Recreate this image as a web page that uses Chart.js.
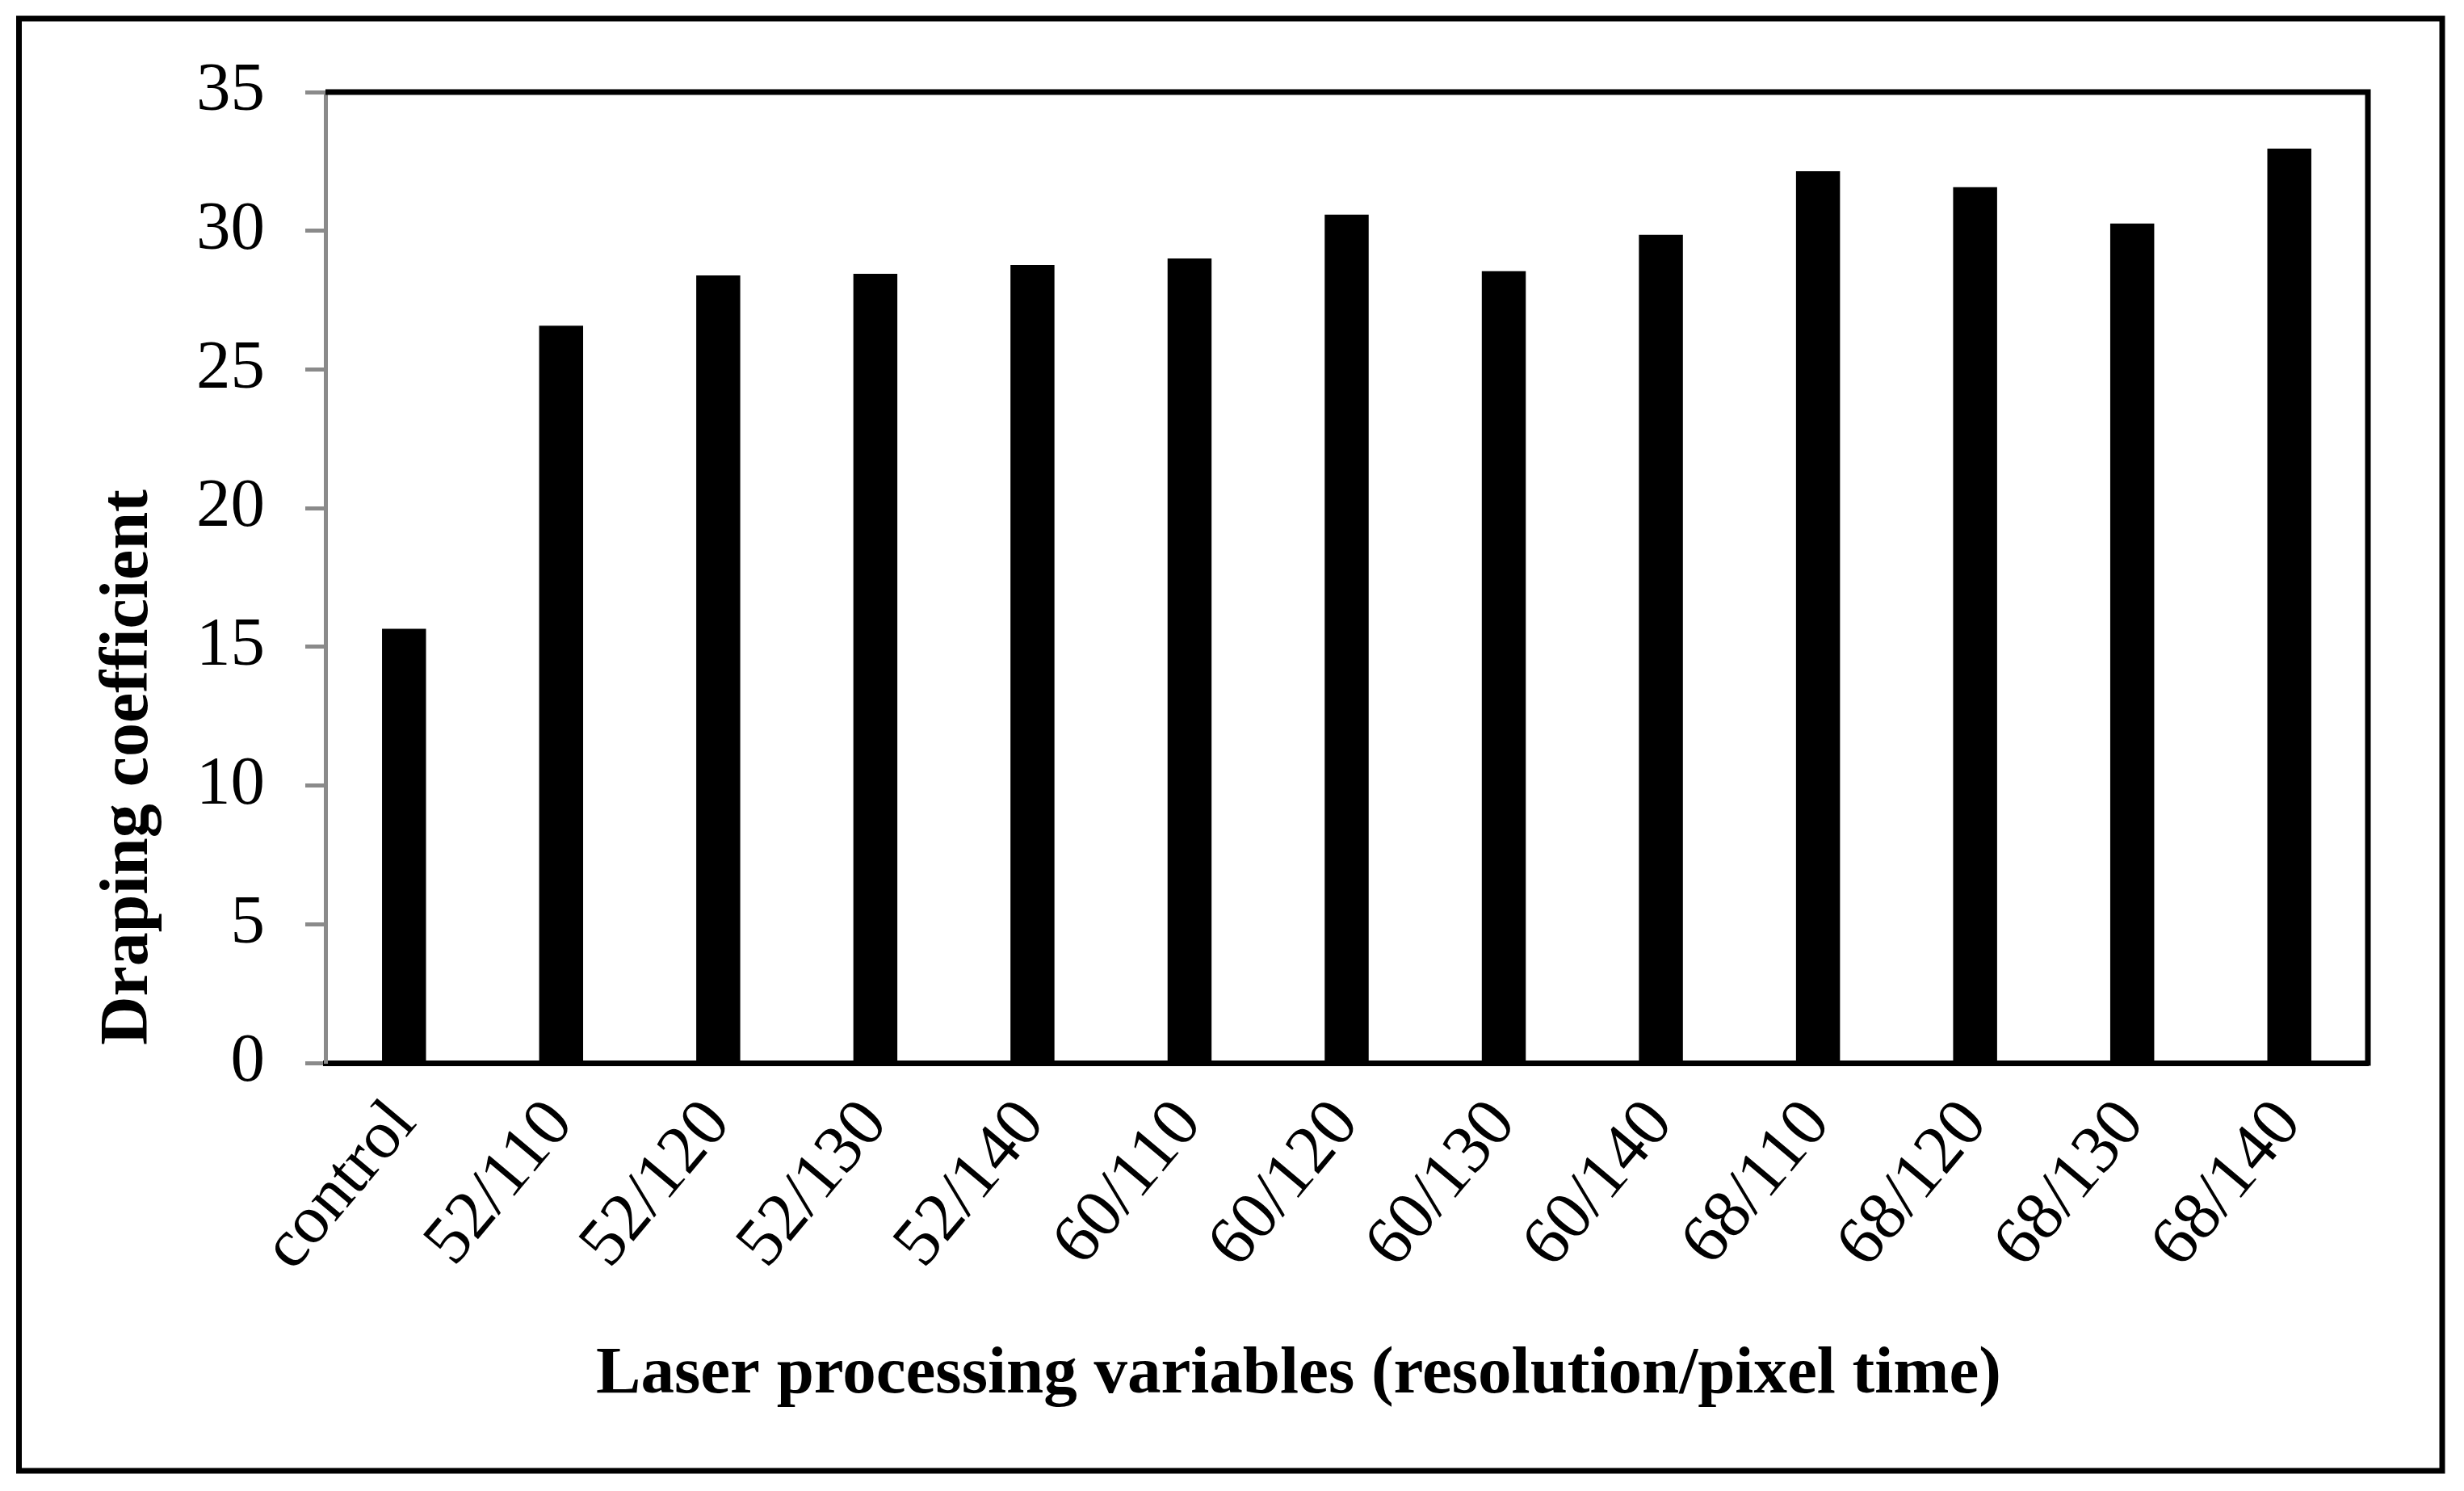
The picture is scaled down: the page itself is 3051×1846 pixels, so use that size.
<!DOCTYPE html>
<html>
<head>
<meta charset="utf-8">
<script src="https://cdn.jsdelivr.net/npm/chart.js@4.4.1/dist/chart.umd.min.js"></script>
<style>
  html, body { margin: 0; padding: 0; background: #fff; }
  canvas { display: block; }
</style>
</head>
<body>
<canvas id="drape-chart" width="3051" height="1846"></canvas>
<script>
var categories = ["control", "52/110", "52/120", "52/130", "52/140", "60/110", "60/120",
                  "60/130", "60/140", "68/110", "68/120", "68/130", "68/140"];
var drapingCoefficient = [15.65, 26.58, 28.39, 28.45, 28.77, 29.0, 30.58,
                          28.54, 29.85, 32.15, 31.57, 30.26, 32.96];
var yTicks = [0, 5, 10, 15, 20, 25, 30, 35];

var xTitle = "Laser processing variables (resolution/pixel time)";
var yTitle = "Draping coefficient";
var serif = "'Liberation Serif', 'Times New Roman', serif";

// frame, top/right plot border and the two axis titles
var decorations = {
    id: 'decorations',
    afterDraw: function(chart) {
        var ctx = chart.ctx;
        var area = chart.chartArea;
        ctx.save();
        ctx.strokeStyle = '#000';
        ctx.lineWidth = 7;
        ctx.strokeRect(23.5, 23, 3000.5, 1798);

        ctx.beginPath();
        ctx.moveTo(area.left, area.top);
        ctx.lineTo(area.right, area.top);
        ctx.lineTo(area.right, area.bottom + 3.5);
        ctx.stroke();

        ctx.fillStyle = '#000';
        ctx.font = 'bold 83px ' + serif;
        ctx.textAlign = 'center';
        ctx.textBaseline = 'alphabetic';
        ctx.fillText(xTitle, 1608, 1724);

        ctx.translate(160, 950);
        ctx.rotate(-Math.PI / 2);
        ctx.font = 'bold 84px ' + serif;
        ctx.textBaseline = 'middle';
        ctx.fillText(yTitle, 0, 0);
        ctx.restore();
    }
};

new Chart(document.getElementById("drape-chart"), {
    type: 'bar',
    data: {
        labels: categories,
        datasets: [
            {
                label: "Draping coefficient",
                backgroundColor: "#000",
                borderWidth: 0,
                barPercentage: 0.28,
                categoryPercentage: 1.0,
                data: drapingCoefficient
            }
        ]
    },
    options: {
        responsive: false,
        animation: false,
        layout: {
            padding: { left: 0, top: 114, right: 119, bottom: 130 }
        },
        plugins: {
            legend: { display: false },
            title: { display: false },
            tooltip: { enabled: false }
        },
        scales: {
            x: {
                grid: { display: false, drawTicks: false },
                border: { display: true, color: '#000', width: 7 },
                ticks: {
                    color: '#000',
                    font: { family: serif, size: 85 },
                    maxRotation: 50,
                    minRotation: 50,
                    padding: 28,
                    autoSkip: false
                },
                afterFit: function(scale) { scale.height = 400; }
            },
            y: {
                min: 0,
                max: 35,
                afterBuildTicks: function(scale) {
                    scale.ticks = yTicks.map(function(v) { return { value: v }; });
                },
                grid: {
                    drawOnChartArea: false,
                    drawTicks: true,
                    tickLength: 25,
                    tickWidth: 5,
                    tickColor: '#8a8a8a'
                },
                border: { display: true, color: '#8a8a8a', width: 5 },
                ticks: {
                    color: '#000',
                    font: { family: serif, size: 85 },
                    padding: 50
                },
                afterFit: function(scale) { scale.width = 403; }
            }
        }
    },
    plugins: [decorations]
});
</script>
</body>
</html>
